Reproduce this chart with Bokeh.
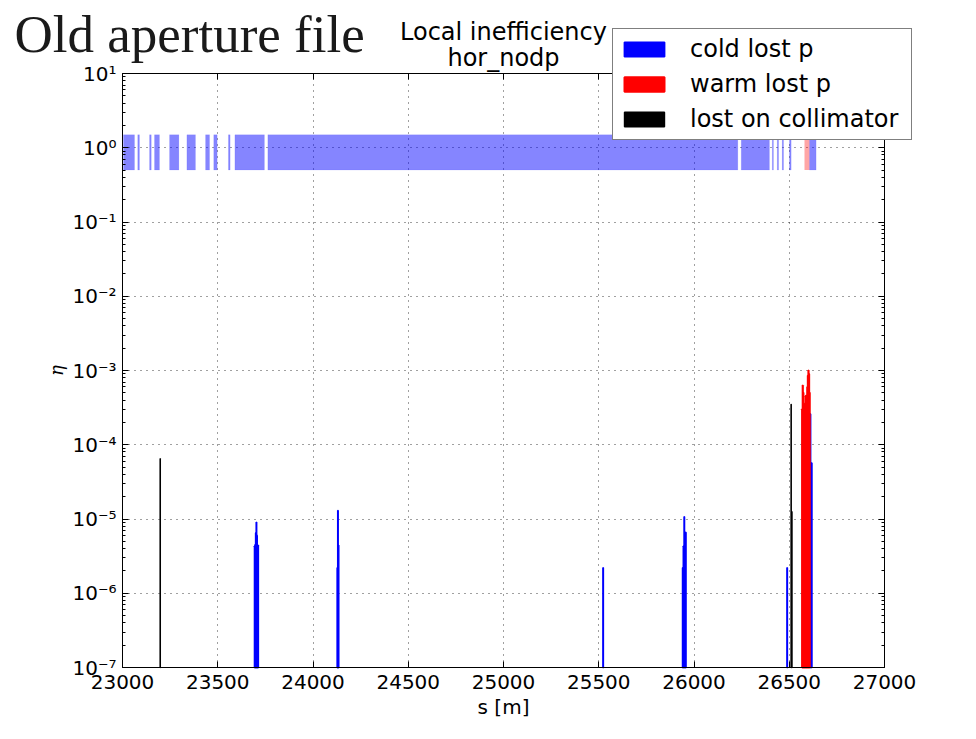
import math
from bokeh.plotting import figure
from bokeh.models import (Range1d, FixedTicker, LogAxis, LinearAxis, Legend, LegendItem,
                          Label, CustomJSTickFormatter, Grid)
from bokeh.embed import file_html
from bokeh.resources import INLINE

# ---------------- data ----------------
x_ticks = [23000, 23500, 24000, 24500, 25000, 25500, 26000, 26500, 27000]
y_ticks = [1e-7, 1e-6, 1e-5, 1e-4, 1e-3, 1e-2, 1e-1, 1e0, 1e1]

# aperture band elements (cold) drawn between eta = 0.5 and 1.5
band_cold_left = [23005, 23080, 23142, 23168, 23247, 23338, 23436, 23479, 23556, 23590,
                  23763, 26248, 26411, 26437, 26463, 26501, 26606]
band_cold_right = [23063, 23089, 23151, 23194, 23296, 23383, 23457, 23497, 23565, 23745,
                   26230, 26396, 26417, 26444, 26470, 26510, 26641]
band_warm_left = [26580]
band_warm_right = [26606]
band_low = 0.5
band_high = 1.5

# cold lost protons
cold_s = [23694, 23697, 23700, 23703, 23706, 23709, 23712,
          24128, 24131, 24134,
          25523,
          25941, 25945, 25949, 25953, 25957,
          26489, 26611, 26618]
cold_eta = [4.3e-6, 4.5e-6, 6.5e-6, 9.0e-6, 6.0e-6, 4.4e-6, 4.4e-6,
            2.2e-6, 1.3e-5, 4.4e-6,
            2.2e-6,
            2.2e-6, 4.3e-6, 1.07e-5, 6.6e-6, 6.6e-6,
            2.2e-6, 2.6e-4, 5.7e-5]

# warm lost protons
warm_s = [26568, 26571, 26574, 26577, 26580, 26583, 26586, 26589, 26592, 26595,
          26598, 26601, 26604, 26607]
warm_eta = [3.0e-4, 6.3e-4, 5.0e-4, 3.2e-4, 2.8e-4, 3.6e-4, 4.5e-4, 4.6e-4, 4.4e-4, 6.0e-4,
            8.5e-4, 1.0e-3, 9.0e-4, 5.0e-4]

# lost on collimator
coll_s = [23198, 26510, 26514]
coll_eta = [6.5e-5, 3.5e-4, 1.25e-5]

legend_labels = ["cold lost p", "warm lost p", "lost on collimator"]

y_min, y_max = 1e-7, 1e1
x_min, x_max = 23000, 27000

# ---------------- layout (page pixels) ----------------
FONT = "DejaVu Sans"
OX, OY = 1, 1            # page position of the canvas
W, H = 960, 723          # canvas size
BOX_L, BOX_R, BOX_T, BOX_B = 123, 885, 74, 668   # the axes box on the page

kx = (BOX_R - BOX_L) / (x_max - x_min)
dec = (BOX_B - BOX_T) / (math.log10(y_max) - math.log10(y_min))


def sx(px):
    return x_min + (px - BOX_L) / kx


def sy(py):
    return 10 ** (math.log10(y_min) + (BOX_B - py) / dec)


p = figure(frame_width=W, frame_height=H, y_axis_type="log",
           x_range=Range1d(sx(OX), sx(OX + W)), y_range=Range1d(sy(OY + H), sy(OY)),
           output_backend="svg", toolbar_location=None, title=None, min_border=0,
           background_fill_color="white", border_fill_color="white")
p.outline_line_color = None

# tickers / formatters
xt = FixedTicker(ticks=x_ticks, minor_ticks=[])
minor = [m * d for d in y_ticks[:-1] for m in range(2, 10)]
yt = FixedTicker(ticks=y_ticks, minor_ticks=minor)
sup_fmt = CustomJSTickFormatter(code="""
const e = Math.round(Math.log10(tick));
const sup = {"-":"\u207b","0":"\u2070","1":"\u00b9","2":"\u00b2","3":"\u00b3","4":"\u2074",
             "5":"\u2075","6":"\u2076","7":"\u2077","8":"\u2078","9":"\u2079"};
return "10" + String(e).split("").map(c => sup[c]).join("");
""")
blank_fmt = CustomJSTickFormatter(code="return '';")

# grid (dotted, limited to the axes box)
has_cross = "cross_bounds" in Grid.properties()
for g in (p.xgrid[0], p.ygrid[0]):
    g.grid_line_color = "black"
    g.grid_line_alpha = 0.75
    g.grid_line_dash = "1 5"
    g.grid_line_width = 1
p.xgrid[0].ticker = xt
p.ygrid[0].ticker = yt
p.xgrid[0].bounds = (x_min, x_max)
p.ygrid[0].bounds = (y_min, y_max)
if has_cross:
    p.xgrid[0].cross_bounds = (y_min, y_max)
    p.ygrid[0].cross_bounds = (x_min, x_max)
else:
    p.xgrid[0].visible = False
    p.ygrid[0].visible = False
    p.segment(x0=x_ticks, y0=[y_min] * len(x_ticks), x1=x_ticks, y1=[y_max] * len(x_ticks),
              line_color="black", line_alpha=0.75, line_dash="1 5", line_width=1)
    p.segment(x0=[x_min] * len(y_ticks), y0=y_ticks, x1=[x_max] * len(y_ticks), y1=y_ticks,
              line_color="black", line_alpha=0.75, line_dash="1 5", line_width=1)

# band
p.quad(left=band_cold_left, right=band_cold_right, bottom=band_low, top=band_high,
       fill_color="blue", fill_alpha=0.48, line_color="blue", line_alpha=0.15, line_width=0.5)
p.quad(left=band_warm_left, right=band_warm_right, bottom=band_low, top=band_high,
       fill_color="red", fill_alpha=0.35, line_color=None)

# losses (thin bars from the bottom of the axis)
r_cold = p.vbar(x=cold_s, top=cold_eta, bottom=y_min, width=1,
                fill_color="blue", line_color="blue", line_width=1.8)
r_warm = p.vbar(x=warm_s, top=warm_eta, bottom=y_min, width=1,
                fill_color="red", line_color="red", line_width=2.0)
r_coll = p.vbar(x=coll_s, top=coll_eta, bottom=y_min, width=1,
                fill_color="black", line_color="black", line_width=1.4)

# axes: all four drawn at the edges of the box
xa = p.xaxis[0]
ya = p.yaxis[0]
xa.ticker = xt
ya.ticker = yt
ya.formatter = sup_fmt
xa.axis_label = "s [m]"
ya.axis_label = "\u03b7"
xa.fixed_location = y_min
ya.fixed_location = x_min
xa.bounds = (x_min, x_max)
ya.bounds = (y_min, y_max)

ta = LinearAxis(ticker=xt, formatter=blank_fmt, fixed_location=y_max, bounds=(x_min, x_max))
ra = LogAxis(ticker=yt, formatter=blank_fmt, fixed_location=x_max, bounds=(y_min, y_max))
p.add_layout(ta, "above")
p.add_layout(ra, "right")

for ax in (xa, ya, ta, ra):
    ax.major_tick_in = 6
    ax.major_tick_out = 0
    ax.minor_tick_in = 3
    ax.minor_tick_out = 0
    ax.axis_line_color = "black"
    ax.axis_line_width = 1
    ax.major_tick_line_color = "black"
    ax.minor_tick_line_color = "black"
    ax.major_label_text_font = FONT
    ax.major_label_text_font_size = "20px"
    ax.major_label_text_color = "black"
    ax.axis_label_text_color = "black"
    ax.axis_label_text_font_style = "normal"
ta.minor_tick_in = 0

xa.major_label_standoff = 7
xa.axis_label_text_font = FONT
xa.axis_label_text_font_size = "20px"
xa.axis_label_standoff = 3
ya.major_label_standoff = 6
ya.axis_label_text_font = "DejaVu Serif"
ya.axis_label_text_font_style = "italic"
ya.axis_label_text_font_size = "18px"
ya.axis_label_standoff = 2

# legend
LEG_L, LEG_B = 613, 141
legend = Legend(items=[LegendItem(label=legend_labels[0], renderers=[r_cold]),
                       LegendItem(label=legend_labels[1], renderers=[r_warm]),
                       LegendItem(label=legend_labels[2], renderers=[r_coll])],
                location=(LEG_L - OX, OY + H - LEG_B), orientation="vertical",
                label_text_font=FONT, label_text_font_size="24px", label_text_color="black",
                glyph_width=50, glyph_height=18, label_height=22, label_width=215,
                label_standoff=21, spacing=7, padding=6, margin=0,
                border_line_color="black", border_line_width=1,
                background_fill_color="white", background_fill_alpha=1.0)
p.add_layout(legend)

# titles
p.add_layout(Label(x=sx(15), y=sy(34), text="Old aperture file", text_font="Liberation Serif",
                   text_font_size="53px", text_color="#1a1a1a", text_align="left",
                   text_baseline="alphabetic"))
p.add_layout(Label(x=sx((BOX_L + BOX_R) / 2), y=sy(32), text="Local inefficiency", text_font=FONT,
                   text_font_size="24px", text_color="black", text_align="center",
                   text_baseline="alphabetic"))
p.add_layout(Label(x=sx((BOX_L + BOX_R) / 2), y=sy(58), text="hor_nodp", text_font=FONT,
                   text_font_size="24px", text_color="black", text_align="center",
                   text_baseline="alphabetic"))

open("out.html", "w").write(file_html(p, INLINE))
